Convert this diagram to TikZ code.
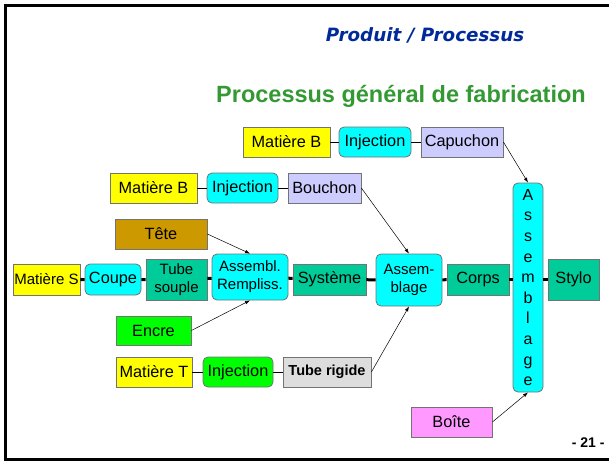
\documentclass[tikz,border=0pt]{standalone}
\usepackage{fontspec}
\setmainfont{Liberation Sans}
\newfontfamily\titelfont{DejaVu Sans}
\usetikzlibrary{arrows.meta}

\definecolor{gelb}{HTML}{FFFF00}
\definecolor{tuerkis}{HTML}{00FFFF}
\definecolor{lila}{HTML}{CCCCFF}
\definecolor{gruen}{HTML}{00CC99}
\definecolor{ocker}{HTML}{CC9900}
\definecolor{hellgruen}{HTML}{00FF00}
\definecolor{grau}{HTML}{DDDDDD}
\definecolor{rosa}{HTML}{FF99FF}
\definecolor{titelblau}{HTML}{002A99}
\definecolor{titelgruen}{HTML}{339933}

\tikzset{
    kasten/.style = {draw=black!55, line width=0.8pt, inner xsep=1pt, inner ysep=1pt,
                     minimum height=30pt, align=center, font=\fontsize{16.3}{18}\selectfont},
    rund/.style   = {kasten, rounded corners=5pt},
    zwei/.style   = {font=\fontsize{15}{18}\selectfont},
    pfeil/.style  = {-{Latex[length=5pt,width=3.5pt]}, line width=0.5pt},
    kette/.style  = {line width=1pt},
    haupt/.style  = {line width=3pt},
}

\begin{document}
\begin{tikzpicture} [x = 1pt, y = -1pt]
            \useasboundingbox (0, 0) rectangle (609, 461);

            % Rahmen
            \draw[line width=3pt] (609, 5.5) -- (5, 5.5) -- (5, 459.5) -- (609, 459.5);

            % Titel
            \node [anchor=base, text=titelblau, font=\titelfont\bfseries\itshape\fontsize{18.3}{22}\selectfont] (produit) at (425, 41.7) {Produit / Processus};
            \node [anchor=base, text=titelgruen, font=\bfseries\fontsize{23.5}{28}\selectfont] (titel) at (401, 102) {Processus général de fabrication};

            % Capuchon
            \node [kasten, fill=gelb, minimum width=87pt] (matB1) at (286.5, 142) {Matière B};
            \node [rund, fill=tuerkis, minimum width=72pt] (inj1) at (375, 142) {Injection};
            \node [kasten, fill=lila, minimum width=82pt] (capu) at (462, 142) {Capuchon};
            \draw [kette] (matB1) -- (inj1) -- (capu);

            % Bouchon
            \node [kasten, fill=gelb, minimum width=87pt] (matB2) at (153.5, 188) {Matière B};
            \node [rund, fill=tuerkis, minimum width=71pt] (inj2) at (242.5, 188) {Injection};
            \node [kasten, fill=lila, minimum width=73pt] (bouch) at (324.5, 188) {Bouchon};
            \draw [kette] (matB2) -- (inj2) -- (bouch);

            \node [kasten, fill=ocker, minimum width=92pt] (tete) at (161, 234) {Tête};

            % Hauptlinie
            \node [kasten, zwei, fill=gelb, minimum width=67pt, minimum height=31pt] (matS) at (46.5, 279.5) {Matière S};
            \node [rund, fill=tuerkis, minimum width=56pt, minimum height=31pt] (coupe) at (113, 279.5) {Coupe};
            \node [kasten, zwei, fill=gruen, minimum width=61pt, minimum height=41pt] (tubeS) at (176.5, 279.5) {Tube\\souple};
            \node [rund, zwei, fill=tuerkis, minimum width=76pt, minimum height=46pt] (assR) at (250, 277) {Assembl.\\Rempliss.};
            \node [kasten, fill=gruen, minimum width=73pt, minimum height=31pt] (syst) at (329.5, 279.5) {Système};
            \node [rund, zwei, fill=tuerkis, minimum width=66pt, minimum height=52pt] (assB) at (409, 280) {Assem-\\blage};
            \node [kasten, fill=gruen, minimum width=62pt, minimum height=31pt] (corps) at (478, 279.5) {Corps};
            \node [rund, fill=tuerkis, minimum width=30pt, minimum height=209pt, font=\fontsize{16}{20.6}\selectfont] (assV) at (528, 287.5) {A\\s\\s\\e\\m\\b\\l\\a\\g\\e};
            \node [kasten, fill=gruen, minimum width=51pt, minimum height=41pt] (stylo) at (573.5, 279.5) {Stylo};
            \draw [haupt] (matS) -- (coupe) -- (tubeS) -- (assR) -- (syst) -- (assB) -- (corps);
            \draw [haupt] (corps.east) -- (corps.east -| assV.west);
            \draw [haupt] (assV.east |- stylo.west) -- (stylo.west);

            % Encre und Tube rigide
            \node [kasten, fill=hellgruen, minimum width=75pt, minimum height=29pt] (encre) at (153.5, 330.5) {Encre};
            \node [kasten, fill=gelb, minimum width=76pt] (matT) at (154, 372) {Matière T};
            \node [rund, fill=hellgruen, minimum width=70pt] (inj3) at (238, 372) {Injection};
            \node [kasten, fill=grau, minimum width=88pt, font=\bfseries\fontsize{14.5}{17}\selectfont] (tubeR) at (327, 372) {Tube rigide};
            \draw [kette] (matT) -- (inj3) -- (tubeR);

            \node [kasten, fill=rosa, minimum width=81pt] (boite) at (451.5, 422) {Boîte};

            % Zulieferungen
            \draw [pfeil] (tete.east) -- (assR.north);
            \draw [pfeil] (encre.east) -- (assR.south);
            \draw [pfeil] (bouch.east) -- (assB.north);
            \draw [pfeil] (tubeR.east) -- (assB.south);
            \draw [pfeil] (capu.east) -- (assV.north);
            \draw [pfeil] (boite.east) -- (assV.south);

            % Seitenzahl
            \node [anchor=base east, font=\bfseries\fontsize{14}{16}\selectfont] (seite) at (608, 447) {- 21 -};
        \end{tikzpicture}
\end{document}
